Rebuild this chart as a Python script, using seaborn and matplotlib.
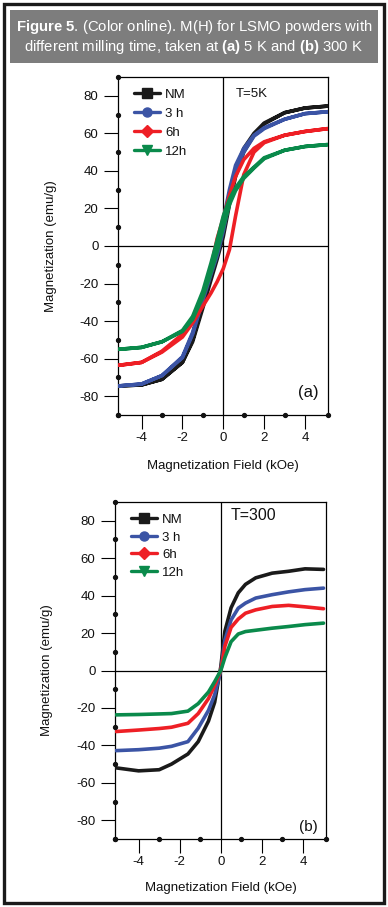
import numpy as np
import pandas as pd
import matplotlib
matplotlib.use("Agg")
import matplotlib.pyplot as plt
import seaborn as sns
from matplotlib.lines import Line2D
from matplotlib.patches import Rectangle

# ---------------- data ----------------
series = ["NM", "3 h", "6h", "12h"]
colors = ["#1a1a1a", "#3b54a5", "#ee1f25", "#0a8a4b"]
markers = ["s", "o", "D", "v"]

# Panel (a): T = 5 K, ascending (lower) and descending (upper) branches
H_a = [-5.1, -4, -3, -2, -1.5, -1, -0.6, -0.3, 0, 0.3, 0.6, 1, 1.5, 2, 3, 4, 5.1]
a_NM_up    = [-74.5, -74, -71, -62, -51, -33, -18, -7, 5, 22, 37, 50, 59, 65, 71, 73.5, 74.5]
a_NM_down  = [-74.5, -74, -71, -62, -50, -31, -14, -2, 12, 28, 41, 52, 60, 65.5, 71, 73.5, 74.5]
a_3h_up    = [-74.5, -73.5, -69, -59.5, -47, -29, -15, -5, 8, 24, 40, 50, 58.5, 62.5, 67.5, 70.5, 71.5]
a_3h_down  = [-74.5, -73.5, -69, -59, -46, -27, -12, -1, 14, 30, 43, 52, 59, 63, 67.5, 70.5, 71.5]
a_6h_up    = [-63.5, -62, -56.5, -48.5, -41, -32, -25, -19, -12, -2, 16, 38, 50, 55, 59, 61, 62.5]
a_6h_down  = [-63.5, -62, -56, -47, -38, -27, -11, 4, 15, 27, 37, 46, 52, 55.5, 59, 61, 62.5]
a_12h_up   = [-55, -54, -51, -45.5, -39, -27, -14, -3, 10, 22, 29.5, 36, 41.5, 46.5, 51, 53, 54]
a_12h_down = [-55, -54, -51, -45, -37.5, -24, -9, 3, 16, 25, 31, 37, 42, 47, 51, 53, 54]

# Panel (b): T = 300 K
H_b = [-5.1, -4, -3, -2.4, -1.6, -1.1, -0.6, -0.3, 0, 0.2, 0.5, 0.85, 1.2, 1.7, 2.5, 3.3, 4.1, 5.0]
b_NM  = [-52, -53.6, -53, -50, -44.6, -38, -27, -17, 2, 21, 33.5, 41.5, 46, 49.5, 52, 53, 54.3, 54]
b_3h  = [-42.8, -42.3, -41.5, -40.5, -38, -30.8, -21.3, -13, 0, 16.3, 27, 33.3, 36, 38.7, 40.5, 42, 43.2, 44]
b_6h  = [-32.6, -31.8, -31, -30.3, -28.2, -23, -15, -8, 0, 13, 23, 27.5, 30.6, 32.4, 34.2, 34.8, 34, 33]
b_12h = [-23.7, -23.5, -23.2, -23, -21.7, -17.7, -11.5, -6, 0, 7, 15.4, 19.5, 20.8, 21.5, 22.6, 23.5, 24.5, 25.3]

x_major = [-4, -2, 0, 2, 4]
x_minor = [-3, -1, 1, 3]
y_major = [-80, -60, -40, -20, 0, 20, 40, 60, 80]
y_minor = [-90, -70, -50, -30, -10, 10, 30, 50, 70, 90]
xlim = (-5.15, 5.12)
ylim = (-90, 90)

# ---------------- frames ----------------
rows = []
for name, up, down in zip(series, [a_NM_up, a_3h_up, a_6h_up, a_12h_up],
                          [a_NM_down, a_3h_down, a_6h_down, a_12h_down]):
    for h, m in zip(H_a, up):
        rows.append(("a", name, h, m))
    for h, m in zip(H_a[::-1], down[::-1]):
        rows.append(("a", name, h, m))
for name, vals in zip(series, [b_NM, b_3h, b_6h, b_12h]):
    for h, m in zip(H_b, vals):
        rows.append(("b", name, h, m))
df = pd.DataFrame(rows, columns=["panel", "sample", "H", "M"])

# ---------------- style ----------------
sns.set_theme(style="white")
plt.rcParams["font.family"] = ["Liberation Sans", "DejaVu Sans"]
plt.rcParams["axes.unicode_minus"] = False
plt.rcParams["mathtext.fontset"] = "custom"
plt.rcParams["mathtext.rm"] = "Liberation Sans"
plt.rcParams["mathtext.bf"] = "Liberation Sans:bold"
plt.rcParams["mathtext.it"] = "Liberation Sans:italic"

W, Hh = 388, 907
fig = plt.figure(figsize=(W / 100, Hh / 100), dpi=100)
fig.patch.set_facecolor("white")

def frac(l, t, r, b):
    return [l / W, 1 - b / Hh, (r - l) / W, (b - t) / Hh]

ax_a = fig.add_axes(frac(118, 77, 328, 415))
ax_b = fig.add_axes(frac(115, 502, 326, 839))

pal = dict(zip(series, colors))

def style_axis(ax, panel_label, temp_text, temp_pos, temp_size, lab_pos, lab_size,
               leg_anchor, leg_spacing, ylab_x, xlab_y):
    ax.set_xlim(*xlim)
    ax.set_ylim(*ylim)
    ax.axhline(0, color="black", lw=0.9, zorder=1)
    ax.axvline(0, color="black", lw=0.9, zorder=1)
    for s in ax.spines.values():
        s.set_visible(True)
        s.set_color("black")
        s.set_linewidth(0.9)
    ax.set_xticks(x_major)
    ax.set_yticks(y_major)
    ax.tick_params(which="major", direction="out", length=10, width=0.8,
                   color="black", labelsize=9.5, labelcolor="#111111",
                   left=True, bottom=True, top=False, right=False)
    ax.tick_params(axis="x", pad=2)
    ax.tick_params(axis="y", pad=4)
    # dot-style minor ticks on the left and bottom spines
    ax.plot([xlim[0]] * len(y_minor), y_minor, "o", ms=2.8, color="#111111",
            clip_on=False, zorder=6)
    ax.plot([xlim[0]] + x_minor + [xlim[1]], [ylim[0]] * (len(x_minor) + 2), "o",
            ms=2.8, color="#111111", clip_on=False, zorder=6)
    ax.set_xlabel("Magnetization Field (kOe)", fontsize=9.5, color="#111111")
    ax.set_ylabel("Magnetization (emu/g)", fontsize=9.5, color="#111111")
    ax.yaxis.set_label_coords(ylab_x, 0.5)
    ax.xaxis.set_label_coords(0.5, xlab_y)
    ax.text(temp_pos[0], temp_pos[1], temp_text, transform=ax.transAxes,
            ha="left", va="center", fontsize=temp_size, color="#111111")
    ax.text(lab_pos[0], lab_pos[1], panel_label, transform=ax.transAxes,
            ha="right", va="center", fontsize=lab_size, color="#111111")
    handles = [Line2D([0], [0], color=c, lw=2.4, marker=m, ms=6.5,
                      markerfacecolor=c, markeredgecolor=c)
               for c, m in zip(colors, markers)]
    leg = ax.legend(handles, series, loc="upper left", bbox_to_anchor=leg_anchor,
                    frameon=False, fontsize=9.5, handlelength=2.0,
                    handletextpad=0.35, labelspacing=leg_spacing, borderaxespad=0,
                    borderpad=0)
    for t in leg.get_texts():
        t.set_color("#111111")

sns.lineplot(data=df[df.panel == "a"], x="H", y="M", hue="sample",
             hue_order=series, palette=pal, sort=False, estimator=None,
             lw=2.6, legend=False, ax=ax_a, zorder=3)
sns.lineplot(data=df[df.panel == "b"], x="H", y="M", hue="sample",
             hue_order=series, palette=pal, sort=False, estimator=None,
             lw=2.6, legend=False, ax=ax_b, zorder=3)

style_axis(ax_a, "(a)", "T=5K", (0.562, 0.95), 9.5, (0.955, 0.068), 12,
           (0.076, 0.965), 0.5, -0.29, -0.133)
style_axis(ax_b, "(b)", "T=300", (0.548, 0.961), 11.5, (0.962, 0.036), 11,
           (0.076, 0.965), 0.4, -0.295, -0.127)

# ---------------- caption header and frame ----------------
fig.patches.append(Rectangle((10 / W, 1 - 63 / Hh), 368 / W, 53 / Hh,
                             transform=fig.transFigure, facecolor="#7d7d7d",
                             edgecolor="none", zorder=0))
fig.patches.append(Rectangle((4 / W, 4 / Hh), 380 / W, 899 / Hh,
                             transform=fig.transFigure, fill=False,
                             edgecolor="#1a1a1a", lw=2.4, zorder=0))
fig.text(0.5, 1 - 27 / Hh,
         r"$\mathbf{Figure\ 5}$. (Color online). M(H) for LSMO powders with",
         ha="center", va="center", color="white", fontsize=10.7)
fig.text(0.5, 1 - 47 / Hh,
         r"different milling time, taken at $\mathbf{(a)}$ 5 K and $\mathbf{(b)}$ 300 K",
         ha="center", va="center", color="white", fontsize=10.7)

fig.savefig("out.png", dpi=100)
